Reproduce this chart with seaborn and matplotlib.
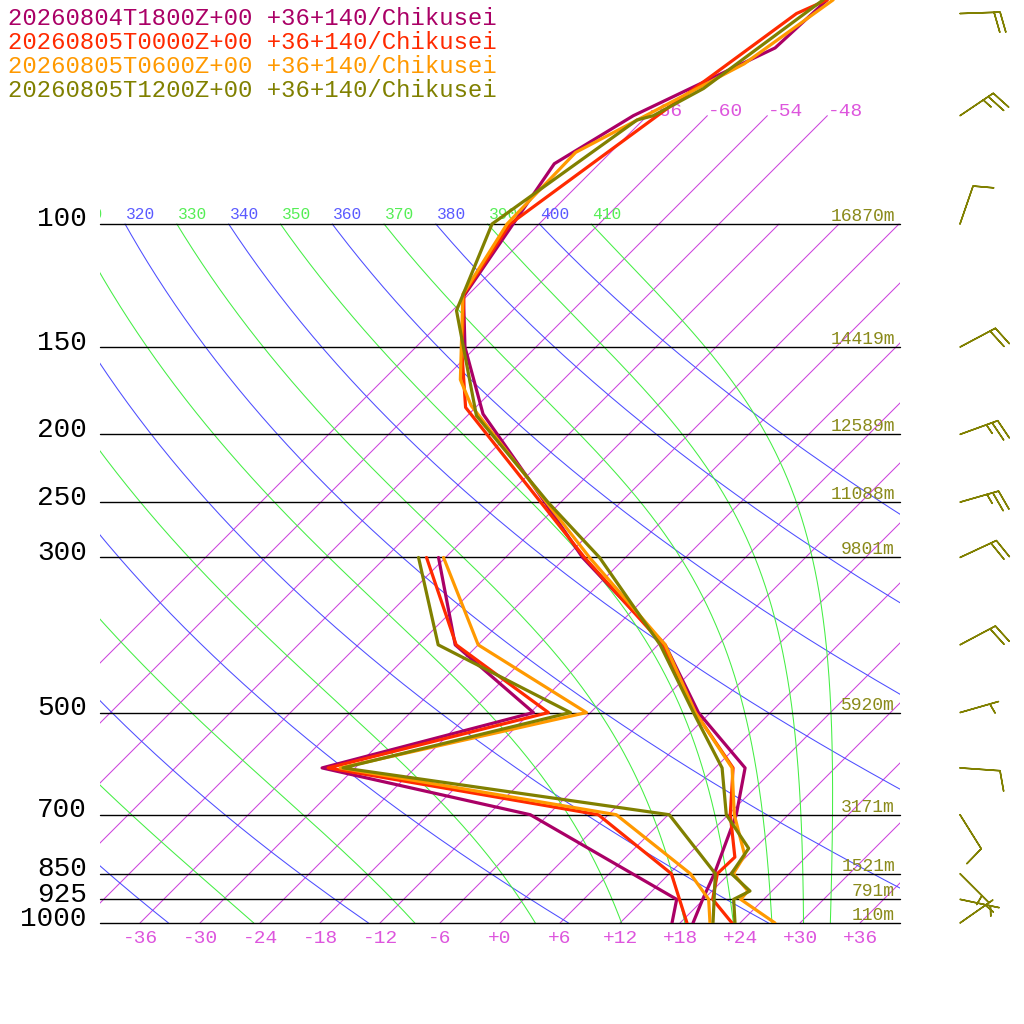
import numpy as np
import matplotlib
matplotlib.use("Agg")
import matplotlib.pyplot as plt
import matplotlib.transforms as mtrans
import seaborn as sns

# ---------------- data ----------------
series_labels = [
    "20260804T1800Z+00 +36+140/Chikusei",
    "20260805T0000Z+00 +36+140/Chikusei",
    "20260805T0600Z+00 +36+140/Chikusei",
    "20260805T1200Z+00 +36+140/Chikusei",
]
series_colors = ["#aa0066", "#ff2a00", "#ff9900", "#808000"]

# temperature profiles (hPa, degC)
p_temp_18z = [1000, 925, 850, 700, 600, 500, 400, 300, 250, 187, 150, 127, 82, 70, 56, 47.8]
t_temp_18z = [19.3, 17.9, 16.5, 12.8, 9.0, -1.2, -11.3, -28.3, -37.6, -52.6, -61.1, -66.3, -70.5, -67.4, -60.0, -59.6]
p_temp_00z = [1000, 925, 850, 805, 700, 600, 500, 400, 300, 183, 153, 126, 100, 50, 47.8]
t_temp_00z = [23.2, 18.9, 16.8, 16.9, 12.2, 7.8, -1.5, -11.5, -28.1, -55.0, -60.8, -66.5, -68.9, -61.3, -59.6]
p_temp_06z = [1000, 925, 900, 850, 800, 700, 600, 500, 400, 300, 182, 167, 126, 100, 79, 59, 47.8]
t_temp_06z = [27.5, 21.7, 21.6, 18.4, 17.7, 12.6, 7.7, -1.5, -11.3, -27.6, -54.6, -58.3, -66.6, -69.2, -69.5, -61.5, -59.0]
p_temp_12z = [1000, 925, 900, 850, 782, 700, 600, 500, 400, 300, 250, 188, 133, 100, 71, 70, 64, 47.8]
t_temp_12z = [23.5, 21.0, 21.8, 18.2, 17.4, 11.8, 6.7, -1.7, -11.8, -26.6, -37.3, -53.1, -65.6, -70.7, -66.6, -65.4, -63.1, -60.0]

# dew point profiles (hPa, degC)
p_dew_18z = [300, 400, 500, 600, 700, 925, 1000]
td_18z = [-42.7, -32.3, -17.7, -33.3, -7.8, 15.3, 17.2]
p_dew_00z = [300, 400, 500, 600, 700, 850, 1000]
td_00z = [-43.9, -32.2, -16.2, -32.7, -1.0, 12.2, 18.7]
p_dew_06z = [300, 400, 500, 600, 700, 850, 925, 1000]
td_06z = [-42.2, -30.0, -12.4, -31.5, 0.8, 14.1, 18.5, 21.0]
p_dew_12z = [300, 400, 500, 600, 700, 850, 1000]
td_12z = [-44.7, -34.0, -14.0, -31.2, 6.1, 16.6, 21.3]

# wind (last run): direction the wind blows from (deg) and speed (kt)
wind_p = [50, 70, 100, 150, 200, 250, 300, 400, 500, 600, 700, 850, 925, 1000]
wind_dir = [88, 56, 19, 62, 70, 74, 65, 62, 74, 94, 148, 135, 102, 55]
wind_spd = [20, 25, 10, 20, 25, 25, 20, 20, 5, 10, 10, 5, 5, 5]

# standard levels with geopotential heights
std_levels = [100, 150, 200, 250, 300, 500, 700, 850, 925, 1000]
std_level_labels = ["100", "150", "200", "250", "300", "500", "700", "850", "925", "1000"]
height_labels = ["16870m", "14419m", "12589m", "11088m", "9801m", "5920m",
                 "3171m", "1521m", "791m", "110m"]

# background line families
isotherms = list(range(-66, 37, 6))
isotherm_labeled = [-66, -60, -54, -48]
dry_thetas = list(range(240, 401, 20))
moist_thetas = list(range(250, 411, 20))
temp_ticks = list(range(-36, 37, 6))
temp_tick_labels = [("+%d" % t) if t >= 0 else ("%d" % t) for t in temp_ticks]

# ---------------- helpers ----------------
SKEW = 30.36
P_TOP = 47.82
X_MIN, X_MAX = -40, 40


def skew(t, p):
    return np.asarray(t, float) + SKEW * np.log(1000.0 / np.asarray(p, float))


def moist_adiabat(theta, p_levels):
    # integrate pseudo-adiabat from 100 hPa downward
    t = theta * (100.0 / 1000.0) ** 0.2857
    temps = [t]

    def rate(T, p):
        es = 6.112 * np.exp(17.67 * (T - 273.15) / (T - 29.65))
        rs = 0.622 * es / (p - es)
        num = 287.04 * T + 2.501e6 * rs
        den = 1005.7 + (2.501e6 ** 2) * rs * 0.622 / (287.04 * T * T)
        return num / den / p

    for i in range(1, len(p_levels)):
        p0, p1 = p_levels[i - 1], p_levels[i]
        dp = p1 - p0
        k1 = rate(t, p0)
        k2 = rate(t + k1 * dp / 2, p0 + dp / 2)
        t = t + k2 * dp
        temps.append(t)
    return np.array(temps) - 273.15


# ---------------- figure ----------------
sns.set_style("white")
plt.rcParams["font.family"] = ["Liberation Mono", "DejaVu Sans Mono"]

fig = plt.figure(figsize=(10.24, 10.24), dpi=100)
ax = fig.add_axes([100 / 1024, 101 / 1024, 800 / 1024, 923 / 1024])
ax.set_yscale("log")
ax.set_xlim(X_MIN, X_MAX)
ax.set_ylim(1000, P_TOP)
for s in ax.spines.values():
    s.set_visible(False)

iso_col = "#cc44dd"
dry_col = "#4d4dff"
moist_col = "#44ee44"

# isotherms
for t in isotherms:
    ptop = 70 if t <= -48 else 100
    pp = np.array([1000, ptop], float)
    ax.plot(skew([t, t], pp), pp, color=iso_col, lw=0.75, zorder=1)
for t in isotherm_labeled:
    ax.text(skew(t, 70), 70, "%d" % t, ha="left", va="baseline", color="#dd55dd",
            fontsize=14, clip_on=True,
            transform=mtrans.offset_copy(ax.transData, fig=fig, x=1, y=0, units="dots"))

# dry adiabats
pp = np.geomspace(1000, 100, 200)
for th in dry_thetas:
    tt = th * (pp / 1000.0) ** 0.2857 - 273.15
    ax.plot(skew(tt, pp), pp, color=dry_col, lw=0.75, zorder=1)
    xl = float(skew(th * 0.1 ** 0.2857 - 273.15, 100))
    if xl > X_MIN - 3.2:
        ax.text(xl, 100, "%d" % th, ha="left", va="baseline", color="#5a5aff",
                fontsize=11.7, clip_on=True,
                transform=mtrans.offset_copy(ax.transData, fig=fig, x=1, y=5, units="dots"))

# moist adiabats
pm = np.linspace(100, 1000, 901)
for th in moist_thetas:
    tt = moist_adiabat(th, pm)
    ax.plot(skew(tt, pm), pm, color=moist_col, lw=0.75, zorder=1)
    xl = float(skew(th * 0.1 ** 0.2857 - 273.15, 100))
    if xl > X_MIN - 3.2:
        ax.text(xl, 100, "%d" % th, ha="left", va="baseline", color="#55ee55",
                fontsize=11.7, clip_on=True,
                transform=mtrans.offset_copy(ax.transData, fig=fig, x=1, y=5, units="dots"))

# standard level lines and labels
for lev, lab, hl in zip(std_levels, std_level_labels, height_labels):
    ax.axhline(lev, color="black", lw=1.0, zorder=2, clip_on=False)
    ax.text(-41.3, lev, lab, ha="right", va="baseline", color="black", fontsize=20,
            clip_on=False,
            transform=mtrans.offset_copy(ax.transData, fig=fig, x=0, y=-2.5, units="dots"))
    ax.text(39.5, lev, hl, ha="right", va="baseline", color="#8a8a1a", fontsize=13,
            clip_on=False,
            transform=mtrans.offset_copy(ax.transData, fig=fig, x=0, y=3, units="dots"))

# soundings
temps = [(p_temp_18z, t_temp_18z), (p_temp_00z, t_temp_00z),
         (p_temp_06z, t_temp_06z), (p_temp_12z, t_temp_12z)]
dews = [(p_dew_18z, td_18z), (p_dew_00z, td_00z), (p_dew_06z, td_06z), (p_dew_12z, td_12z)]
for (pt, tt), (pd_, td), col in zip(temps, dews, series_colors):
    sns.lineplot(x=skew(tt, pt), y=np.array(pt, float), sort=False, estimator=None,
                 color=col, linewidth=2.3, ax=ax, zorder=5)
    sns.lineplot(x=skew(td, pd_), y=np.array(pd_, float), sort=False, estimator=None,
                 color=col, linewidth=2.3, ax=ax, zorder=5)

# wind barbs of the last run
wd = np.deg2rad(np.array(wind_dir, float))
ws = np.array(wind_spd, float)
u = -ws * np.sin(wd)
v = -ws * np.cos(wd)
ax.barbs(np.full(len(wind_p), 46.0), np.array(wind_p, float), u, v, length=7.6,
         color=series_colors[-1], linewidth=1.1, clip_on=False,
         sizes=dict(spacing=0.15, height=0.5, width=0.25))

# axis ticks
ax.set_xticks(temp_ticks)
ax.set_xticklabels(temp_tick_labels, color="#dd55dd", fontsize=14)
ax.tick_params(axis="x", length=0, pad=5)
ax.set_yticks([])
ax.yaxis.set_minor_locator(matplotlib.ticker.NullLocator())
ax.set_xlabel("")
ax.set_ylabel("")

# run legend
for i, (lab, col) in enumerate(zip(series_labels, series_colors)):
    fig.text(8 / 1024, 1 - (25 + 24 * i) / 1024, lab, ha="left", va="baseline",
             color=col, fontsize=17.2)

fig.savefig("out.png", dpi=100, facecolor="white")
